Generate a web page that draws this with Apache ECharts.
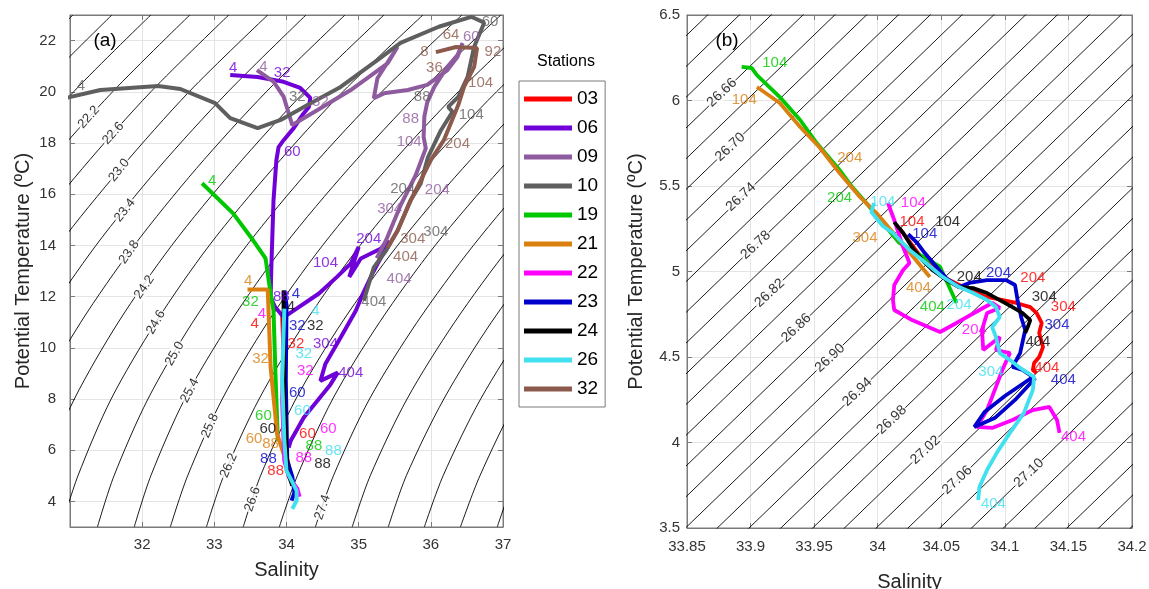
<!DOCTYPE html>
<html>
<head>
<meta charset="utf-8">
<script src="https://cdn.jsdelivr.net/npm/echarts@6/dist/echarts.min.js"></script>
<style>
html,body{margin:0;padding:0;background:#ffffff;}
#chart{width:1149px;height:589px;}
</style>
</head>
<body>
<div id="chart"></div>
<script>
// ================= DATA =================
const stations = ['03','06','09','10','19','21','22','23','24','26','32'];

// ---- Panel (a): profiles [Salinity, Potential temperature] ----
const a03 = [[33.94,11.38],[33.97,8.72],[34.00,5.79],[34.07,4.89]];
const a06 = [[33.22,20.66],[33.60,20.58],[33.96,20.39],[34.19,20.15],[34.33,19.76],[34.31,19.41],[34.22,19.09],[34.10,18.58],[33.96,18.11],[33.89,17.84],[33.86,17.33],[33.82,15.76],[33.79,13.14],[33.78,11.97],[33.84,11.60],[33.96,11.19],[34.45,12.12],[34.70,12.77],[34.89,13.29],[35.00,13.94],[34.87,12.77],[35.03,13.49],[35.31,13.88],[35.40,14.20],[35.35,13.74],[35.19,12.90],[35.06,12.12],[34.96,11.45],[34.75,10.40],[34.54,9.38],[34.47,8.71],[34.71,9.03],[34.61,8.57],[34.24,7.28],[34.06,6.38],[34.03,6.10]];
const a09 = [[33.59,20.85],[33.82,20.40],[33.96,19.81],[34.08,18.70],[34.10,18.65],[34.43,19.29],[34.89,20.07],[35.21,20.72],[35.40,21.11],[35.54,21.76],[35.26,20.53],[35.21,19.75],[35.35,19.94],[35.68,20.07],[35.95,20.27],[36.23,20.85],[36.37,21.37],[36.44,21.90],[36.37,21.44],[36.23,20.98],[36.05,20.20],[35.95,19.59],[35.91,19.03],[35.90,18.24],[35.93,17.79],[35.79,16.74],[35.58,15.56],[35.38,14.20],[35.25,13.50]];
const a10 = [[30.95,19.76],[31.42,20.07],[32.22,20.23],[32.53,20.11],[33.01,19.56],[33.22,18.97],[33.60,18.58],[33.92,18.90],[34.29,19.48],[34.75,20.19],[35.26,21.24],[35.58,21.91],[36.11,22.54],[36.56,22.93],[36.74,22.70],[36.60,21.76],[36.51,20.58],[36.38,19.80],[36.24,19.41],[36.30,19.22],[36.14,18.50],[35.96,17.44],[35.86,16.42],[35.72,15.76],[35.54,14.58],[35.38,13.80],[35.21,13.14],[35.07,11.84]];
const a19 = [[32.83,16.43],[33.26,15.25],[33.54,14.19],[33.71,13.49],[33.78,12.12],[33.82,11.45],[33.85,8.72],[33.88,6.37]];
const a21 = [[33.46,12.28],[33.74,12.28],[33.78,9.24],[33.87,6.64],[33.96,5.86],[34.01,5.32]];
const a22 = [[33.97,11.61],[33.96,10.68],[33.94,7.94],[33.97,5.59],[34.03,4.97],[34.15,4.50],[34.18,4.18]];
const a23 = [[33.97,12.24],[34.00,11.66],[33.99,8.72],[34.01,5.59],[34.08,4.97],[34.11,4.34],[34.07,4.03]];
const a24 = [[33.96,12.24],[33.96,11.65],[33.97,7.94],[34.01,5.20],[34.08,4.62]];
const a26 = [[33.97,11.53],[33.94,8.72],[33.97,6.37],[34.00,5.20],[34.07,4.81],[34.14,4.42],[34.14,4.03],[34.08,3.71]];
const a32 = [[36.07,21.55],[36.35,21.75],[36.64,21.71],[36.60,20.97],[36.46,20.19],[36.38,19.48],[36.18,18.11],[36.00,17.33],[35.86,16.54],[35.72,15.76],[35.54,14.58],[35.40,13.92]];

// ---- Panel (a): depth labels [S, T, depth text] ----
const a03Lab = [[33.56,10.95,'4'],[34.13,10.17,'32'],[34.29,6.65,'60'],[33.85,5.20,'88']];
const a06Lab = [[33.26,20.92,'4'],[33.94,20.73,'32'],[34.08,17.66,'60'],[33.93,12.00,'88'],[34.54,13.30,'104'],[35.14,14.27,'204'],[34.54,10.17,'304'],[34.89,9.03,'404']];
const a09Lab = [[33.68,20.97,'4'],[34.47,19.62,'32'],[36.56,22.16,'60'],[35.72,18.96,'88'],[35.70,18.05,'104'],[36.09,16.16,'204'],[35.43,15.43,'304'],[35.56,12.70,'404']];
const a10Lab = [[31.15,20.22,'4'],[34.15,19.81,'32'],[36.82,22.73,'60'],[35.88,19.81,'88'],[36.56,19.09,'104'],[35.61,16.22,'204'],[36.07,14.53,'304'],[35.21,11.79,'404']];
const a19Lab = [[32.97,16.54,'4'],[33.50,11.79,'32'],[33.68,7.35,'60'],[34.38,6.18,'88']];
const a21Lab = [[33.47,12.63,'4'],[33.64,9.58,'32'],[33.55,6.44,'60'],[33.78,6.25,'88']];
const a22Lab = [[33.66,11.33,'4'],[34.26,9.11,'32'],[34.58,6.84,'60'],[34.24,5.71,'88']];
const a23Lab = [[34.13,12.12,'4'],[34.15,10.87,'32'],[34.15,8.25,'60'],[33.75,5.67,'88']];
const a24Lab = [[34.06,11.61,'4'],[34.40,10.87,'32'],[33.74,6.84,'60'],[34.50,5.46,'88']];
const a26Lab = [[34.40,11.45,'4'],[34.24,9.77,'32'],[34.22,7.55,'60'],[34.65,5.98,'88']];
const a32Lab = [[35.91,21.57,'8'],[36.05,20.92,'36'],[36.28,22.22,'64'],[36.86,21.57,'92'],[36.69,20.33,'104'],[36.37,17.98,'204'],[35.75,14.27,'304'],[35.65,13.55,'404']];

// ---- Panel (a): isopycnals, salinity at each temperature node ----
const isoA_T = [3,5,8,11,14,17,20,23];
const isoA_sigma = [21.0,21.4,21.8,22.2,22.6,23.0,23.4,23.8,24.2,24.6,25.0,25.4,25.8,26.2,26.6,27.0,27.4,27.8,28.2,28.6,29.0,29.4];
const isoA_S = [
 [26.35,26.55,26.96,27.53,28.23,29.06,29.99,31.04],
 [26.86,27.06,27.47,28.05,28.75,29.59,30.52,31.58],
 [27.36,27.56,27.98,28.56,29.27,30.12,31.05,32.12],
 [27.86,28.07,28.50,29.08,29.80,30.64,31.59,32.66],
 [28.36,28.58,29.01,29.60,30.32,31.17,32.12,33.20],
 [28.87,29.08,29.52,30.12,30.84,31.70,32.65,33.74],
 [29.37,29.59,30.03,30.63,31.36,32.22,33.19,34.27],
 [29.87,30.10,30.54,31.15,31.89,32.75,33.72,34.81],
 [30.38,30.60,31.06,31.67,32.41,33.28,34.25,35.35],
 [30.88,31.11,31.57,32.19,32.93,33.81,34.78,35.89],
 [31.38,31.61,32.08,32.70,33.45,34.33,35.32,36.43],
 [31.89,32.12,32.59,33.22,33.97,34.86,35.85,36.97],
 [32.39,32.63,33.11,33.74,34.50,35.39,36.38,37.50],
 [32.89,33.13,33.62,34.26,35.02,35.91,36.91,38.04],
 [33.40,33.64,34.13,34.77,35.54,36.44,37.45,38.58],
 [33.90,34.15,34.64,35.29,36.06,36.97,37.98,39.12],
 [34.40,34.65,35.15,35.81,36.59,37.49,38.51,39.65],
 [34.91,35.16,35.67,36.33,37.11,38.02,39.05,40.19],
 [35.41,35.66,36.18,36.84,37.63,38.55,39.58,40.73],
 [35.91,36.17,36.69,37.36,38.15,39.07,40.11,41.27],
 [36.41,36.68,37.20,37.88,38.67,39.60,40.64,41.81],
 [36.92,37.18,37.72,38.40,39.20,40.13,41.18,42.35]
];
const isoA_labels = [[31.26,19.01,'22.2'],[31.60,18.38,'22.6'],[31.68,16.94,'23.0'],[31.76,15.37,'23.4'],[31.82,13.74,'23.8'],[32.03,12.37,'24.2'],[32.19,11.00,'24.6'],[32.45,9.77,'25.0'],[32.66,8.33,'25.4'],[32.94,6.96,'25.8'],[33.20,5.40,'26.2'],[33.53,4.09,'26.6'],[34.50,3.77,'27.4']];

// ---- Panel (b): profiles [Salinity, Potential temperature] ----
const b03 = [[34.017,5.254],[34.033,5.096],[34.053,4.962],[34.072,4.892],[34.086,4.851],[34.109,4.816],[34.120,4.792],[34.125,4.757],[34.129,4.699],[34.127,4.640],[34.130,4.558],[34.127,4.500],[34.123,4.465],[34.122,4.424],[34.125,4.406]];
const b19 = [[33.893,6.196],[33.901,6.190],[33.905,6.149],[33.923,6.020],[33.939,5.886],[33.952,5.751],[33.970,5.594],[33.980,5.494],[33.991,5.401],[34.004,5.284],[34.017,5.167],[34.049,5.028],[34.062,4.816]];
const b21 = [[33.905,6.079],[33.923,5.985],[33.939,5.845],[33.954,5.728],[33.970,5.576],[33.986,5.436],[33.999,5.342],[34.017,5.184],[34.041,4.968]];
const b22 = [[34.008,5.401],[34.013,5.301],[34.020,5.143],[34.025,5.050],[34.020,5.009],[34.013,4.921],[34.012,4.833],[34.013,4.775],[34.027,4.716],[34.049,4.646],[34.062,4.699],[34.080,4.775],[34.090,4.816],[34.096,4.787],[34.086,4.757],[34.082,4.658],[34.083,4.541],[34.090,4.582],[34.096,4.617],[34.093,4.541],[34.104,4.523],[34.098,4.424],[34.093,4.325],[34.086,4.190],[34.078,4.091],[34.090,4.085],[34.106,4.132],[34.122,4.190],[34.135,4.208],[34.141,4.132],[34.143,4.056]];
const b23 = [[34.024,5.219],[34.031,5.167],[34.037,5.108],[34.045,5.038],[34.054,4.960],[34.064,4.909],[34.072,4.933],[34.086,4.950],[34.101,4.950],[34.108,4.921],[34.110,4.833],[34.113,4.728],[34.116,4.658],[34.112,4.523],[34.106,4.442],[34.114,4.424],[34.122,4.383],[34.100,4.272],[34.084,4.178],[34.076,4.091],[34.092,4.143],[34.108,4.249],[34.124,4.377]];
const b24 = [[34.013,5.289],[34.020,5.225],[34.027,5.143],[34.035,5.067],[34.043,5.009],[34.054,4.950],[34.064,4.909],[34.075,4.903],[34.086,4.874],[34.096,4.833],[34.106,4.792],[34.114,4.757],[34.120,4.716],[34.118,4.675],[34.116,4.640]];
const b26 = [[33.997,5.401],[33.995,5.348],[34.004,5.266],[34.012,5.225],[34.025,5.126],[34.038,5.050],[34.051,4.968],[34.064,4.909],[34.075,4.874],[34.086,4.833],[34.093,4.792],[34.096,4.734],[34.090,4.675],[34.093,4.617],[34.096,4.523],[34.104,4.482],[34.112,4.436],[34.123,4.383],[34.122,4.307],[34.115,4.173],[34.104,4.056],[34.094,3.944],[34.086,3.839],[34.080,3.740],[34.079,3.664]];

// ---- Panel (b): depth labels ----
const b03Lab = [[34.027,5.291,'104'],[34.122,4.960,'204'],[34.146,4.794,'304'],[34.133,4.434,'404']];
const b19Lab = [[33.919,6.219,'104'],[33.970,5.430,'204'],[34.043,4.792,'404']];
const b21Lab = [[33.895,6.003,'104'],[33.978,5.664,'204'],[33.990,5.196,'304'],[34.032,4.902,'404']];
const b22Lab = [[34.028,5.399,'104'],[34.076,4.658,'204'],[34.154,4.034,'404']];
const b23Lab = [[34.037,5.223,'104'],[34.095,4.990,'204'],[34.141,4.687,'304'],[34.146,4.365,'404']];
const b24Lab = [[34.055,5.291,'104'],[34.072,4.970,'204'],[34.131,4.853,'304'],[34.126,4.589,'404']];
const b26Lab = [[34.004,5.408,'104'],[34.064,4.804,'204'],[34.089,4.414,'304'],[34.091,3.644,'404']];

// ---- Panel (b): isopycnals (straight), salinity at T = 3.3 and T = 6.7 ----
const isoB_T = [3.3, 6.7];
const isoB_sigma = [26.58,26.60,26.62,26.64,26.66,26.68,26.70,26.72,26.74,26.76,26.78,26.80,26.82,26.84,26.86,26.88,26.90,26.92,26.94,26.96,26.98,27.00,27.02,27.04,27.06,27.08,27.10,27.12,27.14,27.16,27.18,27.20,27.22];
const isoB_Slo = [33.396,33.421,33.446,33.471,33.496,33.521,33.546,33.571,33.596,33.621,33.646,33.671,33.696,33.721,33.746,33.771,33.796,33.821,33.846,33.871,33.896,33.921,33.946,33.971,33.996,34.021,34.046,34.071,34.096,34.121,34.146,34.171,34.196];
const isoB_Shi = [33.869,33.894,33.919,33.944,33.969,33.994,34.019,34.044,34.069,34.094,34.119,34.144,34.169,34.194,34.219,34.244,34.269,34.294,34.319,34.344,34.369,34.394,34.419,34.444,34.469,34.494,34.519,34.544,34.569,34.594,34.619,34.644,34.669];
const isoB_labels = [[33.8775,6.046,'26.66'],[33.884,5.728,'26.70'],[33.8925,5.436,'26.74'],[33.904,5.155,'26.78'],[33.915,4.874,'26.82'],[33.936,4.670,'26.86'],[33.9625,4.494,'26.90'],[33.984,4.295,'26.94'],[34.011,4.132,'26.98'],[34.0375,3.956,'27.02'],[34.0625,3.781,'27.06'],[34.119,3.822,'27.10']];

// ================= STYLE =================
const stationColors = ['#ff0000','#7000d8','#8e5c9e','#5f5f5f','#00c800','#d9800f','#ff00ff','#0000cc','#000000','#40e0f0','#8c5a4c'];
const isoA_labelAngles = [48,48,51,51,55,55,60,60,62,66,67,71,71];
const isoB_labelAngle = 43;
const FONT = "'Liberation Sans', Arial, Helvetica, sans-serif";

const profA = [a03,a06,a09,a10,a19,a21,a22,a23,a24,a26,a32];
const labA  = [a03Lab,a06Lab,a09Lab,a10Lab,a19Lab,a21Lab,a22Lab,a23Lab,a24Lab,a26Lab,a32Lab];
const profB = [b03,null,null,null,b19,b21,b22,b23,b24,b26,null];
const labB  = [b03Lab,null,null,null,b19Lab,b21Lab,b22Lab,b23Lab,b24Lab,b26Lab,null];

const series = [];

// isopycnals (a)
isoA_S.forEach(function(row){
  series.push({type:'line', xAxisIndex:0, yAxisIndex:0, silent:true, symbol:'none', smooth:0.3, clip:true,
    data: row.map(function(s,j){return [s, isoA_T[j]];}),
    lineStyle:{color:'#000000', width:0.9}, z:1});
});
series.push({type:'scatter', xAxisIndex:0, yAxisIndex:0, silent:true, symbolSize:0, z:2,
  data: isoA_labels.map(function(d,i){return {value:[d[0],d[1]], name:d[2],
    label:{rotate:isoA_labelAngles[i]}};}),
  label:{show:true, position:'inside', formatter:function(p){return p.name;}, color:'#000', fontSize:13, fontFamily:FONT, backgroundColor:'#ffffff', padding:[0,1]}});

// isopycnals (b)
isoB_sigma.forEach(function(c,i){
  series.push({type:'line', xAxisIndex:1, yAxisIndex:1, silent:true, symbol:'none', clip:true,
    data: [[isoB_Slo[i], isoB_T[0]],[isoB_Shi[i], isoB_T[1]]],
    lineStyle:{color:'#000000', width:0.9}, z:1});
});
series.push({type:'scatter', xAxisIndex:1, yAxisIndex:1, silent:true, symbolSize:0, z:2,
  data: isoB_labels.map(function(d){return {value:[d[0],d[1]], name:d[2]};}),
  label:{show:true, position:'inside', rotate:isoB_labelAngle, formatter:function(p){return p.name;}, color:'#000', fontSize:14, fontFamily:FONT, backgroundColor:'#ffffff', padding:[0,1]}});

// profiles
stations.forEach(function(st,i){
  const col = stationColors[i];
  series.push({type:'line', name:st, xAxisIndex:0, yAxisIndex:0, data:profA[i], symbol:'none', clip:true,
    color:col, itemStyle:{color:col}, lineStyle:{color:col, width:4}, z:3});
  if (profB[i]) {
    series.push({type:'line', name:st, xAxisIndex:1, yAxisIndex:1, data:profB[i], symbol:'none', clip:true,
      color:col, itemStyle:{color:col}, lineStyle:{color:col, width:3.8}, z:3});
  }
});
// depth labels
stations.forEach(function(st,i){
  const col = stationColors[i];
  series.push({type:'scatter', xAxisIndex:0, yAxisIndex:0, silent:true, symbolSize:0, z:4,
    data: labA[i].map(function(d){return {value:[d[0],d[1]], name:d[2]};}),
    label:{show:true, position:'inside', formatter:function(p){return p.name;}, color:col, fontSize:15, fontFamily:FONT}});
  if (labB[i]) {
    series.push({type:'scatter', xAxisIndex:1, yAxisIndex:1, silent:true, symbolSize:0, z:4,
      data: labB[i].map(function(d){return {value:[d[0],d[1]], name:d[2]};}),
      label:{show:true, position:'inside', formatter:function(p){return p.name;}, color:col, fontSize:15, fontFamily:FONT}});
  }
});

function axisCommon(margin){
  return {
    axisLine:{show:true, onZero:false, lineStyle:{color:'#7a7a7a', width:1}},
    axisTick:{show:true, inside:true, length:5, lineStyle:{color:'#7a7a7a'}},
    axisLabel:{color:'#333333', fontSize:15, fontFamily:FONT, margin:margin},
    splitLine:{show:true, lineStyle:{color:'#e4e4e4', width:1}},
    nameTextStyle:{color:'#262626', fontSize:20, fontFamily:FONT}
  };
}
// mirrored tick-only axes on top / right (box style)
function mirrorAxis(extra){
  return Object.assign({type:'value', axisLine:{show:true, onZero:false, lineStyle:{color:'#7a7a7a'}},
    axisTick:{show:true, inside:true, length:5, lineStyle:{color:'#7a7a7a'}},
    axisLabel:{show:false}, splitLine:{show:false}}, extra);
}

const option = {
  animation:false,
  backgroundColor:'#ffffff',
  textStyle:{fontFamily:FONT},
  grid:[
    {left:70, top:15, width:433, height:512, show:true, borderColor:'#7a7a7a', borderWidth:1, backgroundColor:'#ffffff', containLabel:false, outerBoundsMode:'none'},
    {left:687, top:15, width:445, height:513, show:true, borderColor:'#7a7a7a', borderWidth:1, backgroundColor:'#ffffff', containLabel:false, outerBoundsMode:'none'}
  ],
  xAxis:[
    Object.assign(axisCommon(10), {type:'value', gridIndex:0, min:31, max:37, interval:1, name:'Salinity', nameLocation:'middle', nameGap:33,
      axisLabel:Object.assign(axisCommon(10).axisLabel, {showMinLabel:false})}),
    Object.assign(axisCommon(11), {type:'value', gridIndex:1, min:33.85, max:34.2, interval:0.05, name:'Salinity', nameLocation:'middle', nameGap:44}),
    mirrorAxis({gridIndex:0, position:'top', min:31, max:37, interval:1}),
    mirrorAxis({gridIndex:1, position:'top', min:33.85, max:34.2, interval:0.05})
  ],
  yAxis:[
    Object.assign(axisCommon(14), {type:'value', gridIndex:0, min:3, max:23, splitNumber:10, name:'Potential Temperature (ºC)', nameLocation:'middle', nameGap:37,
      axisLabel:Object.assign(axisCommon(14).axisLabel, {showMinLabel:false, showMaxLabel:false})}),
    Object.assign(axisCommon(7), {type:'value', gridIndex:1, min:3.5, max:6.5, interval:0.5, name:'Potential Temperature (ºC)', nameLocation:'middle', nameGap:41}),
    mirrorAxis({gridIndex:0, position:'right', min:3, max:23, splitNumber:10}),
    mirrorAxis({gridIndex:1, position:'right', min:3.5, max:6.5, interval:0.5})
  ],
  legend:{
    data: stations,
    orient:'vertical', left:519, top:81,
    icon:'rect', itemWidth:48, itemHeight:5, itemGap:9,
    padding:[8,7,8,5],
    borderColor:'#7a7a7a', borderWidth:1, backgroundColor:'#ffffff',
    textStyle:{color:'#000', fontSize:19, fontFamily:FONT, lineHeight:20},
    selectedMode:false
  },
  graphic:[
    {type:'text', x:566, y:62, style:{text:'Stations', fill:'#000', font:'16px '+FONT, textAlign:'center', textVerticalAlign:'middle'}},
    {type:'text', x:105, y:41, z:10, style:{text:'(a)', fill:'#000', font:'19px '+FONT, textAlign:'center', textVerticalAlign:'middle'}},
    {type:'text', x:727, y:41, z:10, style:{text:'(b)', fill:'#000', font:'19px '+FONT, textAlign:'center', textVerticalAlign:'middle'}}
  ],
  series: series
};

const chart = echarts.init(document.getElementById('chart'));
chart.setOption(option);
</script>
</body>
</html>
